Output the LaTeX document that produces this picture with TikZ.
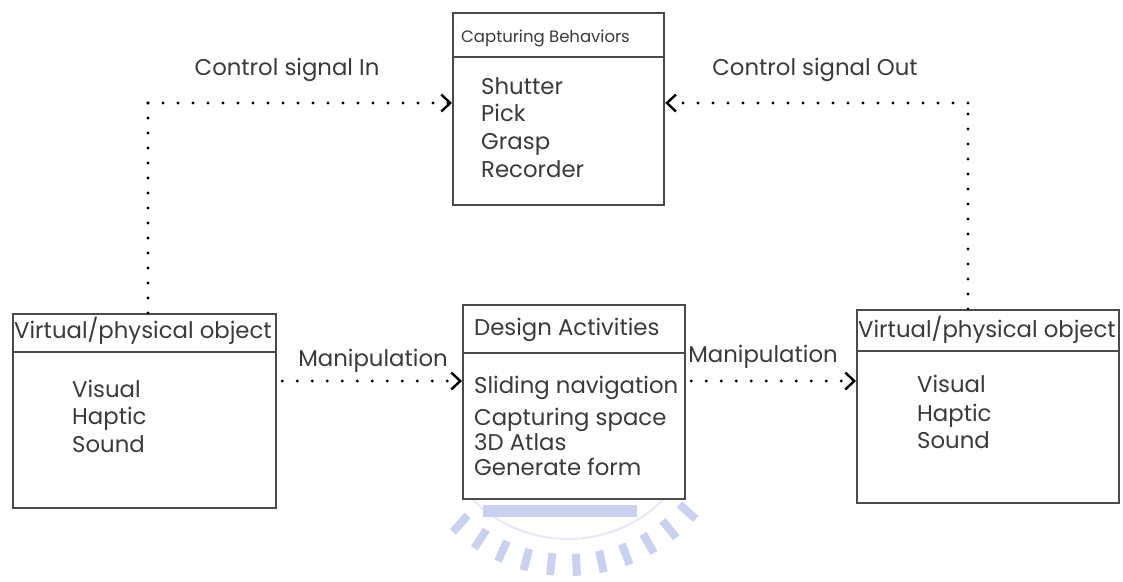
\documentclass[tikz,border=0pt]{standalone}
\usepackage{fontspec}
\setmainfont{Poppins}
\usetikzlibrary{arrows.meta}
\definecolor{ink}{HTML}{3A3A3A}
\definecolor{frame}{HTML}{4A4A4A}
\definecolor{emblem}{HTML}{C9D1F0}
\definecolor{emblemlight}{HTML}{E4E8F8}
\begin{document}
\begin{tikzpicture}[x=1pt,y=-1pt,
  box/.style={draw=frame,fill=white,line width=2.2pt,rectangle,anchor=north west,inner sep=0pt},
  title/.style={anchor=base west,inner sep=0pt,text=ink,font=\fontsize{22.8}{26}\selectfont},
  smalltitle/.style={anchor=base west,inner sep=0pt,text=ink,font=\fontsize{16.5}{19}\selectfont},
  item/.style={anchor=base west,inner sep=0pt,text=ink,font=\fontsize{22.8}{26}\selectfont},
  lbl/.style={anchor=base,inner sep=0pt,text=ink,font=\fontsize{22.8}{26}\selectfont},
  dotline/.style={draw=black,line width=3.3pt,line cap=round,dash pattern=on 0pt off 15pt,
    -{Straight Barb[length=9pt,width=17pt,line width=2.4pt]}},
  dotplain/.style={draw=black,line width=3.3pt,line cap=round,dash pattern=on 0pt off 15pt},
]
\useasboundingbox (0,0) rectangle (1123,581);

% faint emblem in the lower middle
\begin{scope}[emblem,line width=8pt]
  \foreach \a in {42,51,...,138} {
    \draw (568,404) ++(\a:150) -- ++(\a:22);
  }
  \draw[emblemlight,line width=2pt] (568,404) ++(40:135) arc[start angle=40,end angle=140,radius=135];
  \fill (483,505) rectangle (637,517);
\end{scope}

% boxes
\node[box,minimum width=211pt,minimum height=192pt] (cb) at (452,12) {};
\node[box,minimum width=263pt,minimum height=194pt] (lb) at (12,313) {};
\node[box,minimum width=222pt,minimum height=194pt] (mb) at (462,304) {};
\node[box,minimum width=262pt,minimum height=193pt] (rb) at (856,309) {};

% header dividers
\draw[frame,line width=2pt] (cb.west |- 0,57) -- (cb.east |- 0,57);
\draw[frame,line width=2pt] (lb.west |- 0,352) -- (lb.east |- 0,352);
\draw[frame,line width=2pt] (mb.west |- 0,353) -- (mb.east |- 0,353);
\draw[frame,line width=2pt] (rb.west |- 0,351) -- (rb.east |- 0,351);

% capturing behaviors
\node[smalltitle] (cbt) at (461,42) {Capturing Behaviors};
\node[item] (cb1) at (481,94) {Shutter};
\node[item] (cb2) at (481,121) {Pick};
\node[item] (cb3) at (481,149) {Grasp};
\node[item] (cb4) at (481,177) {Recorder};

% left object
\node[title] (lbt) at (14,338) {Virtual/physical object};
\node[item] (lb1) at (72,397) {Visual};
\node[item] (lb2) at (72,424) {Haptic};
\node[item] (lb3) at (72,452) {Sound};

% design activities
\node[title] (mbt) at (474,335) {Design Activities};
\node[item] (mb1) at (474,393) {Sliding navigation};
\node[item] (mb2) at (474,425) {Capturing space};
\node[item] (mb3) at (474,450) {3D Atlas};
\node[item] (mb4) at (474,475) {Generate form};

% right object
\node[title] (rbt) at (858,337) {Virtual/physical object};
\node[item] (rb1) at (917,392) {Visual};
\node[item] (rb2) at (917,421) {Haptic};
\node[item] (rb3) at (917,448) {Sound};

% connector corners and levels
\coordinate (cin) at (148,103);
\coordinate (cout) at (968,103);
\coordinate (man) at (0,381);

% control signals
\draw[dotplain] (lb.north -| cin) -- (cin);
\draw[dotline] (cin) -- (cb.west |- cin);
\draw[dotplain] (rb.north -| cout) -- (cout);
\draw[dotline] (cout) -- (cb.east |- cout);
\node[lbl] (cinl) at (287,75) {Control signal In};
\node[lbl] (coutl) at (815,75) {Control signal Out};

% manipulation
\draw[dotline] (lb.east |- man) ++(5,0) -- (mb.west |- man);
\draw[dotline] (mb.east |- man) ++(5,0) -- (rb.west |- man);
\node[lbl] (m1) at (373,366) {Manipulation};
\node[lbl] (m2) at (763,362) {Manipulation};
\end{tikzpicture}
\end{document}
